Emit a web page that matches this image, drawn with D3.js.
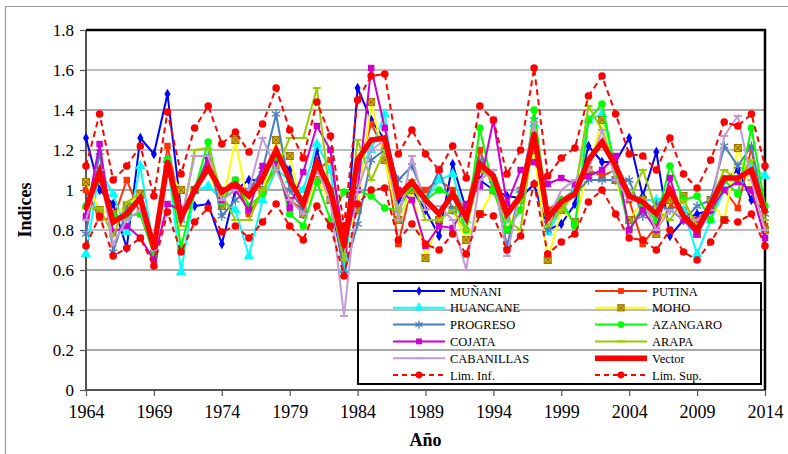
<!DOCTYPE html>
<html>
<head>
<meta charset="utf-8">
<script src="https://cdn.jsdelivr.net/npm/d3@7/dist/d3.min.js"></script>
<style>
  html, body { margin: 0; padding: 0; background: #fff; }
  svg { display: block; font-family: "Liberation Serif", "Times New Roman", serif; }
</style>
</head>
<body>
<svg id="chart" width="788" height="454"></svg>
<script>
// Years on the x axis
const years = d3.range(1964, 2015);
const xTicks = [1964, 1969, 1974, 1979, 1984, 1989, 1994, 1999, 2004, 2009, 2014];
const yTicks = [0, 0.2, 0.4, 0.6, 0.8, 1.0, 1.2, 1.4, 1.6, 1.8];

// Regional indices per station, 1964-2014
const munani = [1.26,1.00,0.93,0.71,1.26,1.18,1.48,0.90,0.92,0.93,0.73,1.00,1.05,1.05,1.18,1.10,0.88,1.20,0.95,0.60,1.51,1.35,1.25,0.95,1.00,0.90,0.77,1.13,0.90,1.05,1.00,0.97,0.96,1.03,0.80,0.83,0.93,1.22,1.14,1.14,1.26,0.97,1.19,0.77,0.85,0.88,0.90,1.05,1.10,0.95,0.90];
const putina = [1.00,0.86,0.85,1.05,0.88,0.68,1.22,0.90,1.00,1.10,1.00,1.05,0.88,1.00,1.12,0.95,0.90,1.10,1.15,0.75,1.10,1.33,1.20,0.73,1.03,1.00,1.05,1.00,0.90,1.20,1.00,0.85,1.00,1.25,0.90,0.95,1.00,1.10,1.07,1.10,0.95,0.73,0.82,0.92,0.90,0.85,0.92,1.00,0.91,1.21,0.82];
const huancane = [0.68,1.10,0.98,0.79,1.12,0.70,1.15,0.59,1.00,1.02,0.95,0.90,0.67,0.95,1.10,1.05,1.00,1.23,1.10,0.60,1.10,1.20,1.38,0.85,1.00,0.95,1.05,1.08,0.85,1.10,1.05,0.85,1.00,1.33,0.79,0.90,1.00,1.35,1.38,1.10,0.98,0.95,0.95,0.97,0.90,0.68,0.85,1.00,1.05,1.12,1.07];
const moho = [1.04,0.90,0.88,0.92,0.98,0.68,1.10,1.00,1.00,1.10,0.92,1.25,0.90,1.00,1.25,1.17,0.88,1.05,0.95,0.75,0.90,1.44,1.15,0.85,1.00,0.66,0.85,0.90,0.75,0.88,1.00,0.80,0.95,1.20,0.65,0.90,0.84,1.10,1.35,1.05,0.85,0.95,0.78,0.95,0.97,0.78,0.95,0.85,1.21,1.00,0.80];
const progreso = [0.78,1.19,0.69,0.90,0.95,0.75,1.15,0.85,1.00,1.17,0.87,0.95,1.00,1.10,1.38,1.00,0.90,1.10,1.00,0.58,0.83,1.15,1.20,1.05,1.12,0.95,1.10,0.90,0.90,1.15,1.05,0.72,1.00,1.35,0.80,0.95,0.98,1.05,1.05,1.05,1.05,0.87,0.93,0.90,0.85,0.92,0.95,1.22,1.12,1.22,0.88];
const azangaro = [0.92,1.05,0.87,0.87,0.88,0.68,1.15,0.71,1.00,1.24,0.94,1.05,0.92,0.98,1.15,0.88,0.82,1.04,0.85,0.99,1.00,0.97,0.91,0.90,1.02,0.95,1.00,0.97,0.80,1.31,1.00,0.80,0.90,1.40,0.88,0.95,0.82,1.35,1.43,1.10,0.80,0.92,0.85,1.12,0.95,0.97,0.85,1.05,0.98,1.31,0.92];
const cojata = [0.87,1.23,0.79,0.82,0.76,0.65,0.93,0.90,1.00,1.15,0.95,1.00,0.90,1.12,1.13,0.91,1.09,1.32,1.20,0.70,1.00,1.61,1.31,1.00,0.95,0.72,0.82,0.81,0.93,1.02,1.35,0.93,1.10,1.14,1.03,1.06,1.03,1.07,1.10,1.17,0.80,0.90,0.80,1.06,0.85,0.78,0.90,1.00,1.04,1.00,0.76];
const arapa = [0.91,0.91,0.77,0.94,0.98,0.70,1.12,0.82,1.20,1.21,0.98,0.85,0.85,1.00,1.10,1.26,1.26,1.51,0.95,0.65,1.25,1.05,1.20,0.90,1.05,0.85,0.85,0.90,0.80,1.10,1.05,0.85,0.80,1.30,0.82,0.90,0.98,1.42,1.30,1.10,0.95,1.10,0.90,0.85,0.95,0.82,0.95,1.10,1.05,1.15,0.85];
const cabanillas = [0.85,1.10,0.73,0.85,0.90,0.70,1.10,0.85,1.17,1.17,0.95,1.00,1.00,1.26,1.10,0.95,0.88,1.10,0.95,0.37,1.00,1.20,1.25,0.85,1.17,0.90,0.92,0.85,0.60,1.05,1.10,0.67,1.00,1.34,0.85,1.00,1.05,1.10,1.30,1.05,0.95,0.95,0.80,0.90,0.86,0.85,0.90,1.27,1.37,1.05,0.80];
const vector = [0.91,1.09,0.84,0.88,0.96,0.71,1.14,0.86,1.00,1.11,0.99,1.03,0.97,1.06,1.20,1.05,0.93,1.14,1.00,0.72,1.15,1.25,1.26,0.97,1.04,0.95,0.88,0.98,0.86,1.13,1.07,0.88,0.97,1.28,0.86,0.94,0.98,1.15,1.24,1.12,0.97,0.94,0.88,1.00,0.87,0.80,0.93,1.06,1.06,1.10,0.89];
const limInf = [0.72,0.87,0.67,0.71,0.76,0.62,0.89,0.69,0.84,0.91,0.79,0.82,0.76,0.84,0.93,0.82,0.75,0.92,0.82,0.57,0.93,1.00,1.01,0.75,0.83,0.73,0.70,0.78,0.68,0.88,0.87,0.70,0.77,1.03,0.68,0.74,0.78,0.94,1.00,0.88,0.76,0.75,0.70,0.80,0.69,0.65,0.74,0.85,0.84,0.88,0.72];
const limSup = [1.12,1.38,1.05,1.12,1.22,0.97,1.39,1.08,1.31,1.42,1.23,1.29,1.19,1.33,1.51,1.30,1.16,1.44,1.27,0.82,1.45,1.57,1.58,1.18,1.30,1.18,1.10,1.22,1.06,1.42,1.35,1.08,1.20,1.61,1.07,1.16,1.21,1.47,1.57,1.38,1.18,1.17,1.10,1.26,1.08,1.01,1.15,1.34,1.32,1.38,1.12];

const seriesNames = ["MUÑANI","PUTINA","HUANCANE","MOHO","PROGRESO","AZANGARO","COJATA","ARAPA","CABANILLAS","Vector","Lim. Inf.","Lim. Sup."];
const seriesValues = [munani, putina, huancane, moho, progreso, azangaro, cojata, arapa, cabanillas, vector, limInf, limSup];

// Drawing style for each series
const styles = [
  {color: "#0000FF", width: 2, marker: "diamond", fill: "#0000FF"},
  {color: "#FF3300", width: 2, marker: "square", fill: "#FF3300"},
  {color: "#00FFFF", width: 2, marker: "triangle", fill: "#00FFFF"},
  {color: "#FFFF00", width: 2, marker: "xsquare", fill: "#D4AA00"},
  {color: "#4A7EBB", width: 2, marker: "asterisk", fill: "#4A7EBB"},
  {color: "#00FF00", width: 2, marker: "circle", fill: "#00FF00"},
  {color: "#CC00CC", width: 2, marker: "square", fill: "#CC00CC"},
  {color: "#99CC00", width: 2, marker: "dash", fill: "#99CC00"},
  {color: "#C39BD3", width: 2, marker: "dash", fill: "#C39BD3"},
  {color: "#FF0000", width: 5.5, marker: "dot", fill: "#FF0000"},
  {color: "#FF0000", width: 2, marker: "circle", fill: "#FF0000", dash: "6,4"},
  {color: "#FF0000", width: 2, marker: "circle", fill: "#FF0000", dash: "6,4"}
];

const serif = "'Liberation Serif', 'Times New Roman', serif";
const svg = d3.select("#chart");
const plot = {left: 86, right: 765, top: 30, bottom: 390};

const x = d3.scaleLinear().domain([1964, 2014]).range([plot.left, plot.right]);
const y = d3.scaleLinear().domain([0, 1.8]).range([plot.bottom, plot.top]);

// Outer chart frame
svg.append("path")
  .attr("d", "M5.5,454 V6.5 H788")
  .attr("fill", "none").attr("stroke", "#9a9a9a").attr("stroke-width", 1.2);

// Horizontal gridlines
svg.append("g").selectAll("line")
  .data(yTicks.filter(d => d > 0 && d < 1.8))
  .join("line")
  .attr("x1", plot.left).attr("x2", plot.right)
  .attr("y1", d => y(d)).attr("y2", d => y(d))
  .attr("stroke", (d, i) => i % 2 === 0 ? "#8c8c8c" : "#bdbdbd")
  .attr("stroke-width", (d, i) => i % 2 === 0 ? 1.3 : 2);

// Axes
const yAxis = d3.axisLeft(y).tickValues(yTicks).tickSize(6).tickPadding(6)
  .tickFormat(d3.format("~g"));
const xAxis = d3.axisBottom(x).tickValues(xTicks).tickSize(6).tickPadding(9)
  .tickFormat(d3.format("d"));

const gy = svg.append("g").attr("transform", `translate(${plot.left},0)`).call(yAxis);
const gx = svg.append("g").attr("transform", `translate(0,${plot.bottom})`).call(xAxis);
[gx, gy].forEach(g => {
  g.attr("font-family", serif);
  g.select(".domain").attr("stroke", "#555").attr("stroke-width", 2);
  g.selectAll(".tick line").attr("stroke", "#555").attr("stroke-width", 1.2);
  g.selectAll(".tick text").attr("fill", "#000").style("font-size", "17px")
    .style("font-family", serif);
});
gx.selectAll(".tick text").style("font-size", "18px");
gy.select(".domain").attr("d", `M0,${plot.bottom}V${plot.top}`);
gx.select(".domain").attr("d", `M${plot.left},0H${plot.right}`);

// Upper and right border of the plot area
svg.append("path")
  .attr("d", `M${plot.left},${plot.top}H${plot.right}V${plot.bottom}`)
  .attr("fill", "none").attr("stroke", "#000").attr("stroke-width", 2.5);

// Axis titles
svg.append("text")
  .attr("transform", `translate(31,${(plot.top + plot.bottom) / 2}) rotate(-90)`)
  .attr("text-anchor", "middle")
  .style("font-family", serif)
  .style("font-size", "18px").style("font-weight", "bold")
  .text("Indices");
svg.append("text")
  .attr("x", (plot.left + plot.right) / 2).attr("y", 446)
  .attr("text-anchor", "middle")
  .style("font-family", serif)
  .style("font-size", "18px").style("font-weight", "bold")
  .text("Año");

// Marker drawing
function drawMarker(g, st, cx, cy, scale) {
  const s = scale || 1;
  const t = `translate(${cx},${cy})`;
  switch (st.marker) {
    case "diamond":
      g.append("path").attr("transform", t).attr("d", d3.symbol(d3.symbolDiamond, 32 * s)())
        .attr("fill", st.fill);
      break;
    case "square":
      g.append("path").attr("transform", t).attr("d", d3.symbol(d3.symbolSquare, 42 * s)())
        .attr("fill", st.fill);
      break;
    case "triangle":
      g.append("path").attr("transform", t).attr("d", d3.symbol(d3.symbolTriangle, 48 * s)())
        .attr("fill", st.fill);
      break;
    case "xsquare": {
      const h = 3.5 * Math.sqrt(s);
      const m = g.append("g").attr("transform", t);
      m.append("rect").attr("x", -h).attr("y", -h).attr("width", 2 * h).attr("height", 2 * h)
        .attr("fill", st.fill).attr("stroke", "#9C7A00").attr("stroke-width", 1);
      m.append("path").attr("d", `M${-h},${-h}L${h},${h}M${h},${-h}L${-h},${h}`)
        .attr("stroke", "#8C6A00").attr("stroke-width", 1);
      break;
    }
    case "asterisk":
      g.append("path").attr("transform", t).attr("d", d3.symbol(d3.symbolAsterisk, 60 * s)())
        .attr("fill", "none").attr("stroke", st.fill).attr("stroke-width", 1.3);
      break;
    case "circle":
      g.append("circle").attr("cx", cx).attr("cy", cy).attr("r", 3.8 * Math.sqrt(s))
        .attr("fill", st.fill);
      break;
    case "dot":
      g.append("circle").attr("cx", cx).attr("cy", cy).attr("r", 2.5)
        .attr("fill", st.fill);
      break;
    case "dash":
      g.append("path").attr("d", `M${cx - 4},${cy}H${cx + 4}`)
        .attr("stroke", st.fill).attr("stroke-width", 2);
      break;
  }
}

// Series lines and markers
const line = d3.line().x((d, i) => x(years[i])).y(d => y(d));
const layer = svg.append("g");
seriesValues.forEach((vals, k) => {
  const st = styles[k];
  const g = layer.append("g");
  g.append("path").datum(vals).attr("d", line)
    .attr("fill", "none").attr("stroke", st.color).attr("stroke-width", st.width)
    .attr("stroke-linejoin", "miter").attr("stroke-dasharray", st.dash || null);
  vals.forEach((v, i) => drawMarker(g, st, x(years[i]), y(v)));
});

// Legend
const lg = svg.append("g").attr("font-family", serif);
lg.append("rect").attr("x", 358).attr("y", 283).attr("width", 403).attr("height", 101)
  .attr("fill", "none").attr("stroke", "#000").attr("stroke-width", 2);
seriesNames.forEach((name, k) => {
  const col = k % 2, row = Math.floor(k / 2);
  const x0 = col === 0 ? 393 : 595;
  const yy = 291 + row * 16.8;
  const st = styles[k];
  const e = lg.append("g");
  e.append("line").attr("x1", x0).attr("x2", x0 + 52).attr("y1", yy).attr("y2", yy)
    .attr("stroke", st.color).attr("stroke-width", st.width)
    .attr("stroke-dasharray", st.dash ? "5,4" : null);
  drawMarker(e, st, x0 + 26, yy, 0.8);
  e.append("text").attr("x", x0 + 57).attr("y", yy + 4.5)
    .style("font-family", serif)
    .style("font-size", "12.5px").text(name);
});
</script>
</body>
</html>
